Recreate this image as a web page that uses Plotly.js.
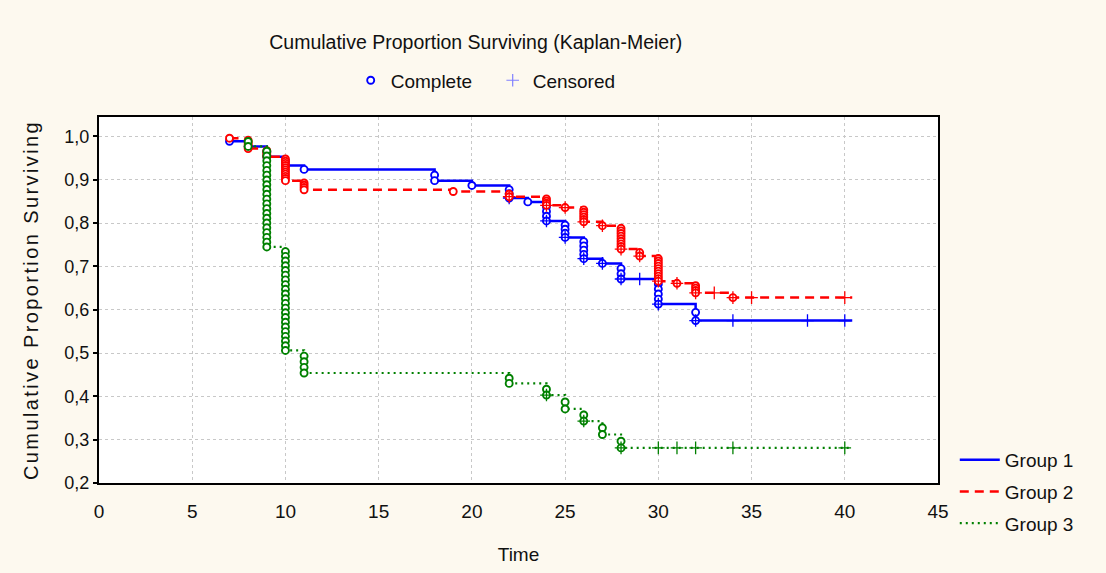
<!DOCTYPE html>
<html><head><meta charset="utf-8">
<script src="https://cdn.plot.ly/plotly-3.0.1.min.js"></script>
<style>
html,body{margin:0;padding:0;background:#fdf9ef}
.g-ytitle text{letter-spacing:2.4px}
</style>
</head><body><div id="chart" style="width:1106px;height:573px"></div>
<script>
// ---------- data ----------
const groupNames = ['Group 1', 'Group 2', 'Group 3'];
const groupColors = ['#0000ff', '#ff0000', '#008000'];

// Group 1: event times, survival after each time, number of events at each time
const g1Times  = [7, 8, 9, 10, 11, 18, 20, 22, 23, 24, 25, 26, 27, 28, 30, 32];
const g1Surv   = [0.989, 0.977, 0.953, 0.933, 0.924, 0.898, 0.887, 0.858, 0.849, 0.805, 0.767, 0.718, 0.707, 0.671, 0.613, 0.575];
const g1Events = [1, 1, 2, 2, 1, 2, 1, 3, 1, 4, 4, 5, 1, 3, 5, 2];
const g1Censored = [22, 24, 25, 26, 27, 28, 29, 30, 32, 34, 38, 40];
const g1End = 40.4;

// Group 2
const g2Times  = [7, 8, 9, 10, 11, 19, 22, 24, 25, 26, 27, 28, 29, 30, 31, 32, 34];
const g2Surv   = [0.996, 0.972, 0.953, 0.898, 0.877, 0.873, 0.861, 0.841, 0.836, 0.803, 0.794, 0.740, 0.724, 0.666, 0.661, 0.639, 0.628];
const g2Events = [1, 5, 4, 11, 4, 1, 2, 4, 1, 6, 1, 9, 2, 10, 1, 4, 1];
const g2Censored = [22, 24, 25, 26, 27, 28, 29, 30, 31, 32, 33, 34, 35, 40];
const g2End = 40.4;

// Group 3
const g3Times  = [8, 9, 10, 11, 22, 24, 25, 26, 27, 28];
const g3Surv   = [0.977, 0.745, 0.506, 0.454, 0.430, 0.403, 0.371, 0.343, 0.312, 0.281];
const g3Events = [2, 21, 22, 4, 2, 2, 2, 2, 2, 2];
const g3Censored = [24, 26, 28, 30, 31, 32, 34, 40];
const g3End = 40.3;

const xTicks = [0, 5, 10, 15, 20, 25, 30, 35, 40, 45];
const yTicks = [0.2, 0.3, 0.4, 0.5, 0.6, 0.7, 0.8, 0.9, 1.0];
const yTickText = ['0,2', '0,3', '0,4', '0,5', '0,6', '0,7', '0,8', '0,9', '1,0'];

// ---------- build ----------
const sans = 'Liberation Sans, Arial, sans-serif';
const groups = [
  {times: g1Times, surv: g1Surv, ev: g1Events, cens: g1Censored, end: g1End, dash: 'solid', width: 2.5},
  {times: g2Times, surv: g2Surv, ev: g2Events, cens: g2Censored, end: g2End, dash: '9px,6px', width: 2.5},
  {times: g3Times, surv: g3Surv, ev: g3Events, cens: g3Censored, end: g3End, dash: '2px,4px', width: 2.2}
];

const traces = [];
groups.forEach((g, gi) => {
  const col = groupColors[gi];
  const lx = g.times.concat([g.end]);
  const ly = g.surv.concat([g.surv[g.surv.length - 1]]);
  traces.push({type: 'scatter', mode: 'lines', x: lx, y: ly, name: groupNames[gi],
    line: {shape: 'hv', color: col, width: g.width, dash: g.dash},
    legendgroup: 'g' + gi, legend: 'legend', hoverinfo: 'skip'});
  const cx = [], cy = [];
  g.times.forEach((t, i) => {
    const prev = i === 0 ? 1.0 : g.surv[i - 1];
    const d = g.ev[i];
    for (let k = 1; k <= d; k++) { cx.push(t); cy.push(prev - k * (prev - g.surv[i]) / d); }
  });
  traces.push({type: 'scatter', mode: 'markers', x: cx, y: cy, showlegend: false, hoverinfo: 'skip',
    marker: {symbol: 'circle', size: 7, color: '#ffffff', line: {color: col, width: 1.9}}});
  const sx = [], sy = [];
  g.cens.forEach(t => {
    let s = 1.0;
    g.times.forEach((tt, i) => { if (tt <= t) s = g.surv[i]; });
    sx.push(t); sy.push(s);
  });
  traces.push({type: 'scatter', mode: 'markers', x: sx, y: sy, showlegend: false, hoverinfo: 'skip',
    marker: {symbol: 'cross-thin', size: 9, color: col, line: {color: col, width: 1.3}}});
});

traces.push({type: 'scatter', mode: 'markers', x: [null], y: [null], name: 'Complete', legend: 'legend2',
  marker: {symbol: 'circle', size: 7, color: '#ffffff', line: {color: '#0000ff', width: 1.9}}});
traces.push({type: 'scatter', mode: 'markers', x: [null], y: [null], name: 'Censored', legend: 'legend2',
  marker: {symbol: 'cross-thin', size: 9, color: '#8080ff', line: {color: '#8080ff', width: 1.2}}});

const layout = {
  width: 1106, height: 573,
  paper_bgcolor: '#fdf9ef', plot_bgcolor: '#ffffff',
  margin: {l: 99, r: 168, t: 117, b: 90},
  title: {text: 'Cumulative Proportion Surviving (Kaplan-Meier)', x: 0.449, xref: 'paper', xanchor: 'center',
    y: 0.927, yref: 'container', yanchor: 'middle', font: {family: sans, size: 19.5, color: '#111'}},
  xaxis: {range: [0, 45], tickvals: xTicks, ticktext: xTicks.map(String),
    showline: true, mirror: true, linecolor: '#000', linewidth: 2,
    showgrid: true, gridcolor: '#c8c8c8', gridwidth: 1, griddash: '3px,3px',
    zeroline: false, ticks: '', ticklabelstandoff: 10, tickfont: {family: sans, size: 19, color: '#111'},
    title: {text: 'Time', font: {family: sans, size: 19, color: '#111'}, standoff: 27}},
  yaxis: {range: [0.2, 1.045], tickvals: yTicks, ticktext: yTickText,
    showline: true, mirror: true, linecolor: '#000', linewidth: 2,
    showgrid: true, gridcolor: '#c8c8c8', gridwidth: 1, griddash: '3px,3px',
    zeroline: false, ticks: 'outside', ticklen: 4, tickwidth: 2, tickcolor: '#000',
    tickfont: {family: sans, size: 18, color: '#111'},
    title: {text: 'Cumulative Proportion Surviving', font: {family: sans, size: 20, color: '#111'}, standoff: 20}},
  legend: {x: 1.02, xanchor: 'left', y: 0.115, yanchor: 'top', bgcolor: 'rgba(0,0,0,0)', itemwidth: 40,
    traceorder: 'grouped', tracegroupgap: 4, font: {family: sans, size: 19, color: '#111'}},
  legend2: {orientation: 'h', x: 0.3, xanchor: 'left', y: 1.1, yanchor: 'middle', bgcolor: 'rgba(0,0,0,0)',
    entrywidth: 97, entrywidthmode: 'pixels', font: {family: sans, size: 19, color: '#111'}},
  showlegend: true
};

Plotly.newPlot('chart', traces, layout, {displayModeBar: false, staticPlot: true});
</script></body></html>
